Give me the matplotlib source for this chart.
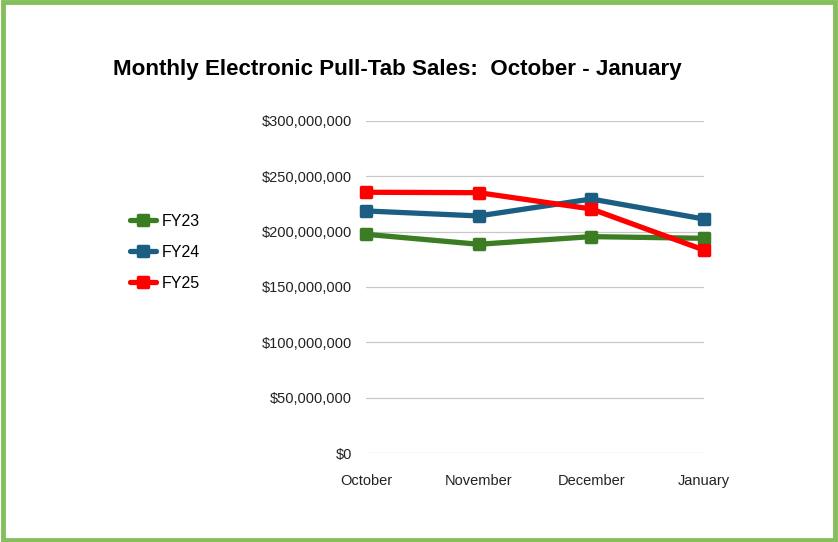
import matplotlib.pyplot as plt
from matplotlib.patches import Rectangle
from matplotlib.markers import MarkerStyle
from matplotlib.ticker import FuncFormatter

plt.rcParams['font.family'] = ['Liberation Sans', 'DejaVu Sans']

months = ["October", "November", "December", "January"]
fy23 = [197.6e6, 188.6e6, 195.5e6, 194.0e6]
fy24 = [218.7e6, 214.2e6, 229.5e6, 211.4e6]
fy25 = [235.6e6, 235.2e6, 220.5e6, 183.4e6]

series = [("FY23", fy23, "#3a7d22"), ("FY24", fy24, "#1b5e82"), ("FY25", fy25, "#ff0000")]

fig = plt.figure(figsize=(8.38, 5.42), dpi=100)
ax = fig.add_axes([0.4368, 0.1642, 0.4033, 0.6126])

x = range(len(months))
mk = MarkerStyle("s", joinstyle="round")
for name, vals, col in series:
    ax.plot(x, vals, color=col, linewidth=3.8, marker=mk, markersize=7,
            markeredgewidth=2.5, markeredgecolor=col,
            label=name, clip_on=False, solid_capstyle="round")

ax.set_xlim(0, len(months) - 1)
ax.set_ylim(0, 300e6)
ax.set_yticks([i * 50e6 for i in range(7)])
ax.yaxis.set_major_formatter(FuncFormatter(lambda v, p: f"${v:,.0f}"))
ax.set_xticks(list(x))
ax.set_xticklabels(months)
ax.grid(axis="y", color="#c8c8c8", linewidth=0.9)
ax.set_axisbelow(True)
for s in ax.spines.values():
    s.set_visible(False)
ax.tick_params(length=0, labelsize=10.5, colors="#222222")
ax.tick_params(axis="y", pad=10)
ax.tick_params(axis="x", pad=15)

fig.text(0.474, 0.871, "Monthly Electronic Pull-Tab Sales:  October - January",
         ha="center", va="center", fontsize=16.1, fontweight="bold")

leg = fig.legend(loc="center left", bbox_to_anchor=(0.138, 0.535), frameon=False,
                 fontsize=11.5, handlelength=1.6, labelspacing=1.0, handletextpad=0.4)

fig.patches.append(Rectangle((0.004, 0.004), 0.992, 0.992, transform=fig.transFigure,
                             fill=False, edgecolor="#84bf5c", linewidth=3.5))

fig.savefig("out.png", dpi=100)
